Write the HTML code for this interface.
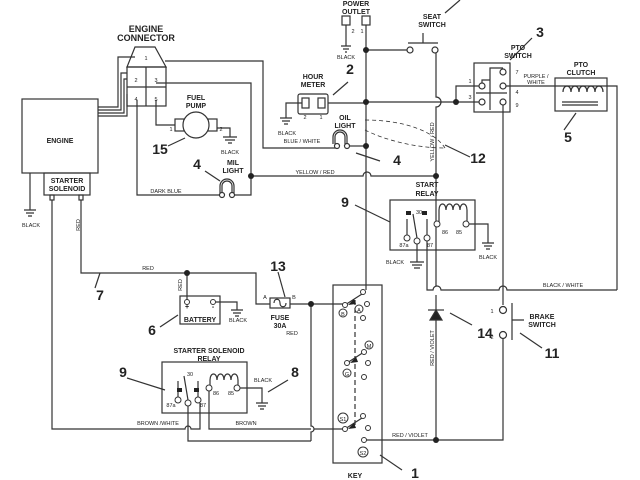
<!DOCTYPE html>
<html><head><meta charset="utf-8"><style>
body{margin:0;background:#fff}
svg{display:block}
text{font-family:"Liberation Sans",sans-serif;font-weight:bold;fill:#222}
.s{font-size:7px}.l{font-size:9px}.n{font-size:14px}.t{font-size:5.5px;font-weight:normal}
</style></head><body>
<svg width="640" height="480" viewBox="0 0 640 480" xmlns="http://www.w3.org/2000/svg">
<g fill="none" stroke="#333" stroke-width="1.2">
<rect x="22" y="99" width="76" height="74"/>
<rect x="44" y="173" width="46" height="22"/>
<rect x="50" y="195" width="4" height="5"/><rect x="79" y="195" width="4" height="5"/>
<path d="M30 173V210M24 210h12M26 213h8M28 216h4"/>
<path d="M135 47h20l11 20H127z"/>
<rect x="127" y="67" width="39" height="39"/>
<path d="M127 87h39M146 67v39"/>
<path d="M98 107h20V57h17M98 110h23V73h6M98 113h26V79h3M98 116h29V94"/>
<path d="M165 61h98v87h75"/>
<path d="M156 83h95v93"/>
<path d="M137 100v95h85M232 195h19v-19"/>
<path d="M156 100v25h19"/>
<rect x="175" y="119" width="9" height="12"/><rect x="208" y="119" width="9" height="12"/>
<circle cx="196" cy="125" r="13" fill="#fff"/>
<path d="M217 128h13v9M223 137h14M225 140h10M228 143h4"/>
<path d="M168 146l17-8"/>
<path d="M220 193v-7a7 7 0 0 1 14 0v7M222 193v-7a5 5 0 0 1 10 0v7"/>
<circle cx="222" cy="195" r="2.5" fill="#fff"/><circle cx="232" cy="195" r="2.5" fill="#fff"/>
<path d="M205 171l15 10"/>
<path d="M251 176h112a4 4 0 0 1 8 0h65"/>
<rect x="298" y="94" width="30" height="20" rx="2"/>
<rect x="302" y="98" width="7" height="10"/><rect x="318" y="98" width="7" height="10"/>
<path d="M302 103h-16v15M280 118h12M282 121h8M284 124h4"/>
<path d="M328 103h39M367 102h89"/>
<path d="M333 95l15-13"/>
<rect x="342" y="16" width="8" height="9"/><rect x="362" y="16" width="8" height="9"/>
<path d="M346 25v21M341 46h10M343 49h6M345 52h2"/>
<path d="M366 25V290"/>
<path d="M366 50h42M408 43h30M423 33v10M436 52v45a5 5 0 0 1 0 10v69"/>
<circle cx="410" cy="50" r="3" fill="#fff"/><circle cx="435" cy="50" r="3" fill="#fff"/>
<path d="M445 13l15-13"/>
<path d="M333 144v-7a7 7 0 0 1 14 0v7M335 144v-7a5 5 0 0 1 10 0v7"/>
<path d="M350 146h16"/>
<circle cx="337" cy="146" r="2.5" fill="#fff"/><circle cx="347" cy="146" r="2.5" fill="#fff"/>
<path d="M356 153l24 8"/>
<path d="M365 120c40 0 70 12 80 28M365 130c20 10 50 18 80 18" stroke-dasharray="4 3" stroke-width="0.8"/>
<path d="M445 145l25 12"/>
<rect x="474" y="63" width="36" height="49"/>
<path d="M456 102V86h26M456 102h26M482 86V80h8V68h13M476 93h31M490 80v30"/>
<circle cx="482" cy="86" r="3" fill="#fff"/><circle cx="482" cy="102" r="3" fill="#fff"/>
<circle cx="503" cy="72" r="3" fill="#fff"/><circle cx="503" cy="86" r="3" fill="#fff"/><circle cx="503" cy="102" r="3" fill="#fff"/>
<path d="M510 60l22-22"/>
<rect x="555" y="78" width="52" height="33"/>
<path d="M506 86h111v204M562 102h36M562 105h36"/>
<path d="M563 92c0-8 8-8 8 0c0-8 8-8 8 0c0-8 8-8 8 0c0-8 8-8 8 0c0-8 8-8 8 0"/>
<path d="M576 113l-12 17"/>
<rect x="390" y="200" width="85" height="50"/>
<path d="M436 176v48M439 210c0-8 7-8 7 0c0-8 7-8 7 0c0-8 7-8 7 0c0-8 7-8 7 0M439 210v12M467 210v12"/>
<path d="M469 224h19v19M482 243h12M484 246h8M486 249h4"/>
<path d="M407 235v-16M427 235v-16M417 238l-4-24"/>
<path d="M417 244v18M410 262h14M412 265h10M414 268h6"/>
<path d="M427 241v49h6a4 4 0 0 1 8 0h58a4 4 0 0 1 8 0h110"/>
<path d="M355 205l35 17"/>
<path d="M503 105v200"/>
<path d="M436 227v59M436 295v145"/>
<path d="M428 310h16"/><path d="M436 310l-6 10h12z" fill="#222"/>
<path d="M450 313l22 12"/>
<path d="M512 303v37M512 320h12M503 338v102H366"/>
<circle cx="503" cy="310" r="3.5" fill="#fff"/><circle cx="503" cy="335" r="3.5" fill="#fff"/>
<path d="M520 333l22 15"/>
<rect x="333" y="285" width="49" height="178"/>
<path d="M355 300v125" stroke-dasharray="5 3"/>
<path d="M345 305l17-11M347 363l17-11M345 429l17-11"/>
<path d="M380 455l22 15"/>
<path d="M81 200v73h175v31h14M187 273v29"/>
<path d="M95 288l5-15"/>
<rect x="270" y="298" width="20" height="10"/>
<path d="M274 303c0-5 6-5 6 0c0 5 6 5 6 0"/>
<path d="M290 304h55M311 304v122a3 3 0 0 1 0 6v9"/>
<path d="M278 272l7 25"/>
<rect x="180" y="296" width="40" height="28"/>
<path d="M216 302h21v8M231 310h12M233 313h8M235 316h4"/>
<path d="M160 327l18-12"/>
<rect x="162" y="362" width="85" height="51"/>
<path d="M178 397v-16M198 397v-16M188 400l-4-24"/>
<path d="M210 380c0-8 7-8 7 0c0-8 7-8 7 0c0-8 7-8 7 0c0-8 7-8 7 0M210 380v5M238 380v5"/>
<path d="M240 388h22v15M256 403h12M258 406h8M260 409h4"/>
<path d="M268 392l20-12"/>
<path d="M127 378l38 12"/>
<path d="M52 200v229h133a3 3 0 0 1 6 0h9v-26"/>
<path d="M209 391v38h102M188 406v35h123M314 429h31"/>
</g>
<g fill="#fff" stroke="#333">
<circle cx="187" cy="302" r="2.5"/><circle cx="213" cy="302" r="2.5"/>
<circle cx="407" cy="238" r="3"/><circle cx="417" cy="241" r="3"/><circle cx="427" cy="238" r="3"/>
<circle cx="437" cy="224" r="3"/><circle cx="466" cy="224" r="3"/>
<circle cx="178" cy="400" r="3"/><circle cx="188" cy="403" r="3"/><circle cx="198" cy="400" r="3"/>
<circle cx="209" cy="388" r="3"/><circle cx="237" cy="388" r="3"/>
<circle cx="345" cy="305" r="2.5"/><circle cx="363" cy="292" r="2.5"/><circle cx="367" cy="304" r="2.5"/><circle cx="363" cy="318" r="2.5"/>
<circle cx="347" cy="363" r="2.5"/><circle cx="364" cy="352" r="2.5"/><circle cx="368" cy="363" r="2.5"/><circle cx="364" cy="377" r="2.5"/>
<circle cx="345" cy="429" r="2.5"/><circle cx="363" cy="416" r="2.5"/><circle cx="368" cy="428" r="2.5"/><circle cx="364" cy="440" r="2.5"/>
<circle cx="343" cy="313" r="4"/><circle cx="359" cy="309" r="4"/><circle cx="369" cy="345" r="4"/><circle cx="347" cy="373" r="4"/>
<circle cx="343" cy="418" r="5"/><circle cx="363" cy="452" r="5"/>
</g>
<g fill="#222">
<circle cx="251" cy="176" r="3"/><circle cx="366" cy="50" r="3"/><circle cx="366" cy="102" r="3"/><circle cx="366" cy="146" r="3"/>
<circle cx="456" cy="102" r="3"/><circle cx="436" cy="176" r="3"/><circle cx="187" cy="273" r="3"/><circle cx="311" cy="304" r="3"/><circle cx="436" cy="440" r="3"/>
<path d="M348 305l6-6 2 5z"/><path d="M350 363l6-6 2 5z"/><path d="M348 429l6-6 2 5z"/>
<path d="M406 215h5v-4h-5zM427 215h-5v-4h5zM177 392h5v-4h-5zM199 392h-5v-4h5z"/>
</g>
<g text-anchor="middle">
<text x="146" y="32" class="l">ENGINE</text><text x="146" y="41" class="l">CONNECTOR</text>
<text x="146" y="60" class="t">1</text><text x="136" y="82" class="t">2</text><text x="156" y="82" class="t">3</text><text x="136" y="101" class="t">4</text><text x="156" y="101" class="t">5</text>
<text x="60" y="143" class="s">ENGINE</text>
<text x="67" y="183" class="s">STARTER</text><text x="67" y="191" class="s">SOLENOID</text>
<text x="31" y="227" class="t">BLACK</text>
<text x="196" y="100" class="s">FUEL</text><text x="196" y="108" class="s">PUMP</text>
<text x="171" y="131" class="t">1</text><text x="221" y="131" class="t">2</text>
<text x="230" y="154" class="t">BLACK</text>
<text x="160" y="154" class="n">15</text><text x="197" y="169" class="n">4</text>
<text x="233" y="165" class="s">MIL</text><text x="233" y="173" class="s">LIGHT</text>
<text x="166" y="193" class="t">DARK BLUE</text>
<text x="313" y="79" class="s">HOUR</text><text x="313" y="87" class="s">METER</text>
<text x="305" y="119" class="t">2</text><text x="321" y="119" class="t">1</text>
<text x="287" y="135" class="t">BLACK</text>
<text x="350" y="74" class="n">2</text>
<text x="302" y="143" class="t">BLUE / WHITE</text>
<text x="345" y="120" class="s">OIL</text><text x="345" y="128" class="s">LIGHT</text>
<text x="397" y="165" class="n">4</text>
<text x="315" y="174" class="t">YELLOW / RED</text>
<text x="356" y="6" class="s">POWER</text><text x="356" y="14" class="s">OUTLET</text>
<text x="353" y="33" class="t">2</text><text x="362" y="33" class="t">1</text>
<text x="346" y="59" class="t">BLACK</text>
<text x="432" y="19" class="s">SEAT</text><text x="432" y="27" class="s">SWITCH</text>
<text x="518" y="50" class="s">PTO</text><text x="518" y="58" class="s">SWITCH</text>
<text x="540" y="37" class="n">3</text>
<text x="470" y="83" class="t">1</text><text x="470" y="99" class="t">3</text>
<text x="517" y="74" class="t">7</text><text x="517" y="94" class="t">4</text><text x="517" y="107" class="t">9</text>
<text x="536" y="78" class="t">PURPLE /</text><text x="536" y="84" class="t">WHITE</text>
<text x="581" y="67" class="s">PTO</text><text x="581" y="75" class="s">CLUTCH</text>
<text x="568" y="142" class="n">5</text>
<text x="478" y="163" class="n">12</text>
<text x="427" y="187" class="s">START</text><text x="427" y="196" class="s">RELAY</text>
<text x="345" y="207" class="n">9</text>
<text x="419" y="214" class="t">30</text><text x="404" y="247" class="t">87a</text><text x="430" y="247" class="t">87</text>
<text x="445" y="234" class="t">86</text><text x="459" y="234" class="t">85</text>
<text x="395" y="264" class="t">BLACK</text><text x="488" y="259" class="t">BLACK</text>
<text x="563" y="287" class="t">BLACK / WHITE</text>
<text x="492" y="313" class="t">1</text><text x="492" y="339" class="t">2</text>
<text x="542" y="319" class="s">BRAKE</text><text x="542" y="327" class="s">SWITCH</text>
<text x="552" y="358" class="n">11</text><text x="485" y="338" class="n">14</text>
<text x="148" y="270" class="t">RED</text>
<text x="100" y="300" class="n">7</text>
<text x="278" y="271" class="n">13</text>
<text x="265" y="299" class="t">A</text><text x="294" y="299" class="t">B</text>
<text x="280" y="320" class="s">FUSE</text><text x="280" y="328" class="s">30A</text>
<text x="292" y="335" class="t">RED</text>
<text x="187" y="309" class="s">+</text><text x="213" y="309" class="s">-</text>
<text x="200" y="322" class="s">BATTERY</text>
<text x="238" y="322" class="t">BLACK</text>
<text x="152" y="335" class="n">6</text>
<text x="209" y="353" class="s">STARTER SOLENOID</text><text x="209" y="361" class="s">RELAY</text>
<text x="123" y="377" class="n">9</text><text x="295" y="377" class="n">8</text>
<text x="263" y="382" class="t">BLACK</text>
<text x="190" y="376" class="t">30</text><text x="171" y="407" class="t">87a</text><text x="203" y="407" class="t">87</text>
<text x="216" y="395" class="t">86</text><text x="231" y="395" class="t">85</text>
<text x="158" y="425" class="t">BROWN /WHITE</text><text x="246" y="425" class="t">BROWN</text>
<text x="410" y="437" class="t">RED / VIOLET</text>
<text x="343" y="316" class="t">B</text><text x="359" y="312" class="t">A</text><text x="369" y="348" class="t">M</text><text x="347" y="376" class="t">G</text>
<text x="343" y="421" class="t">S1</text><text x="363" y="455" class="t">S2</text>
<text x="355" y="478" class="s">KEY</text><text x="415" y="478" class="n">1</text>
</g>
<text x="80" y="225" class="t" transform="rotate(-90 80 225)" text-anchor="middle">RED</text>
<text x="182" y="285" class="t" transform="rotate(-90 182 285)" text-anchor="middle">RED</text>
<text x="434" y="142" class="t" transform="rotate(-90 434 142)" text-anchor="middle">YELLOW / RED</text>
<text x="434" y="348" class="t" transform="rotate(-90 434 348)" text-anchor="middle">RED / VIOLET</text>
</svg>
</body></html>
